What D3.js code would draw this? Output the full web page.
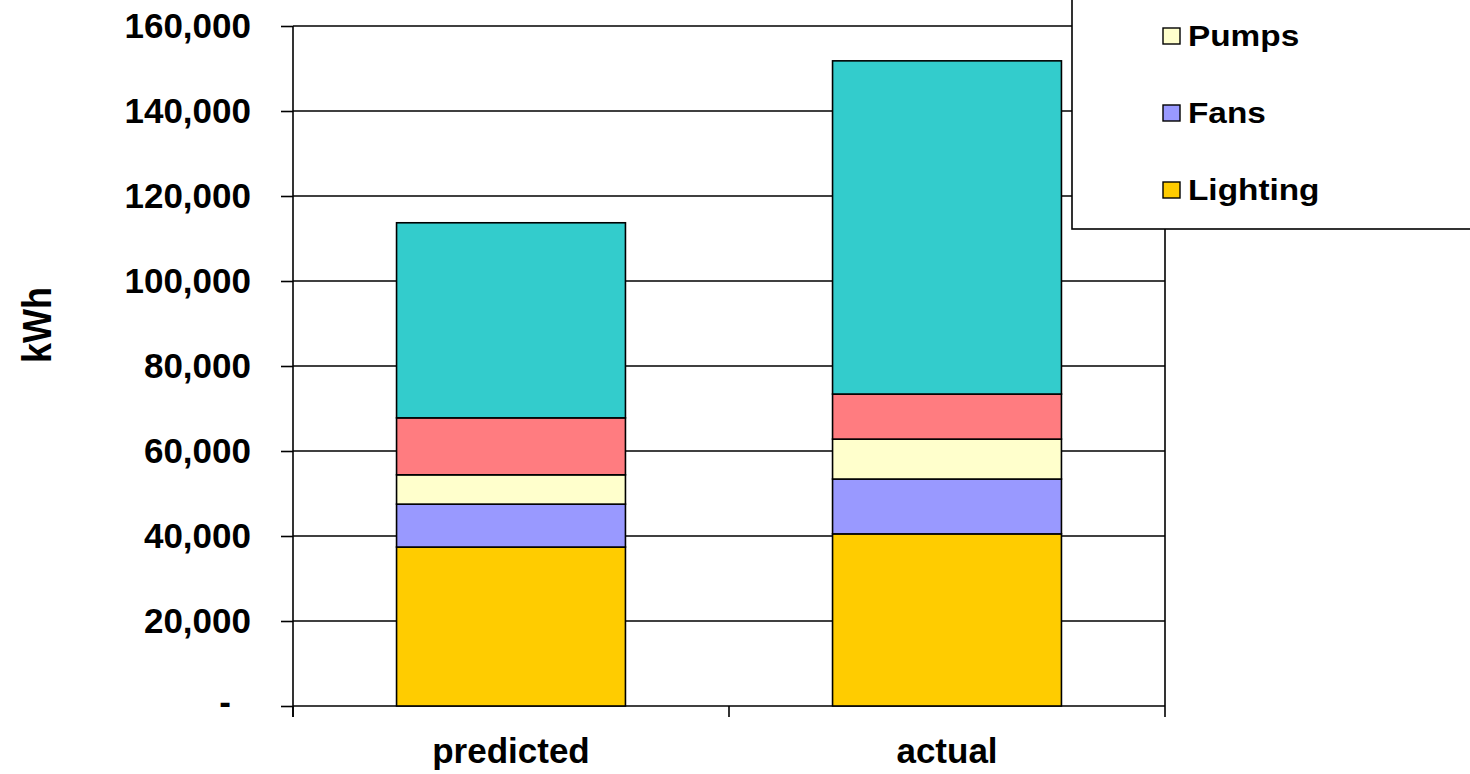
<!DOCTYPE html>
<html>
<head>
<meta charset="utf-8">
<script src="https://cdn.jsdelivr.net/npm/d3@7"></script>
<style>
  html, body { margin: 0; padding: 0; background: #ffffff; }
  svg { display: block; }
  text { font-family: "Liberation Sans", Arial, sans-serif; font-weight: bold; fill: #000; }
</style>
</head>
<body>
<svg id="chart" width="1470" height="774"></svg>
<script>
// Annual electricity use by end use, kWh
const categories = ["predicted", "actual"];
const seriesNames = ["Lighting", "Fans", "Pumps", "Cooling", "Other"];
const lighting = [37400, 40500];
const fans     = [10100, 12900];
const pumps    = [6900, 9400];
const cooling  = [13400, 10600];
const other    = [45900, 78400];
const yTicks   = [0, 20000, 40000, 60000, 80000, 100000, 120000, 140000, 160000];
const colors   = ["#FFCC00", "#9999FF", "#FFFFCC", "#FF7C80", "#33CCCC"];
// legend rows in the visible part of the legend box, top-down
const legendShown = ["Pumps", "Fans", "Lighting"];

const seriesValues = [lighting, fans, pumps, cooling, other];
const rows = categories.map((c, i) => {
  const r = { category: c };
  seriesNames.forEach((s, k) => { r[s] = seriesValues[k][i]; });
  return r;
});

const svg = d3.select("#chart");
const plotLeft = 293, plotRight = 1165, plotTop = 26, plotBottom = 706;

const y = d3.scaleLinear().domain([0, 160000]).range([plotBottom, plotTop]);
const slots = d3.scaleBand().domain(categories).range([plotLeft, plotRight]).padding(0);
const x = d3.scaleBand().domain(categories).range([plotLeft, plotRight])
  .paddingInner(0.475).paddingOuter(0.2375);
const color = d3.scaleOrdinal().domain(seriesNames).range(colors);

// horizontal gridlines
svg.append("g")
  .selectAll("line")
  .data(yTicks)
  .join("line")
  .attr("x1", plotLeft).attr("x2", plotRight)
  .attr("y1", d => y(d)).attr("y2", d => y(d))
  .attr("stroke", "#000").attr("stroke-width", 1.6);

// right border of the plot area
svg.append("line")
  .attr("x1", plotRight).attr("x2", plotRight)
  .attr("y1", plotTop).attr("y2", plotBottom)
  .attr("stroke", "#000").attr("stroke-width", 1.6);

// stacked bars
const stacked = d3.stack().keys(seriesNames)(rows);
svg.append("g")
  .selectAll("g")
  .data(stacked)
  .join("g")
  .attr("fill", d => color(d.key))
  .selectAll("rect")
  .data(d => d)
  .join("rect")
  .attr("x", d => x(d.data.category))
  .attr("width", x.bandwidth())
  .attr("y", d => y(d[1]))
  .attr("height", d => y(d[0]) - y(d[1]))
  .attr("stroke", "#000")
  .attr("stroke-width", 1.6);

// y axis
const yAxis = svg.append("g")
  .attr("transform", `translate(${plotLeft},0)`)
  .call(d3.axisLeft(y).tickValues(yTicks).tickSize(12).tickPadding(30)
    .tickFormat(d => d === 0 ? "-" : d3.format(",")(d)));
yAxis.select(".domain").attr("stroke", "#000").attr("stroke-width", 1.6)
  .attr("d", `M0,${plotTop}V${plotBottom + 11}`);
yAxis.selectAll(".tick line").attr("stroke", "#000").attr("stroke-width", 1.6);
yAxis.selectAll(".tick text")
  .attr("font-size", 35)
  .attr("font-family", "'Liberation Sans', Arial, sans-serif")
  .attr("font-weight", "bold")
  .attr("fill", "#000")
  .attr("dy", "0.34em");
yAxis.selectAll(".tick text").filter(d => d === 0)
  .attr("text-anchor", "middle").attr("x", -68).attr("dy", "0.2em");

// x axis: slot boundary ticks and category labels
const xAxis = svg.append("g");
const boundaries = categories.map(c => slots(c)).concat([plotRight]);
xAxis.selectAll("line.tick")
  .data(boundaries)
  .join("line")
  .attr("class", "tick")
  .attr("x1", d => d).attr("x2", d => d)
  .attr("y1", plotBottom).attr("y2", plotBottom + 11)
  .attr("stroke", "#000").attr("stroke-width", 1.6);
xAxis.selectAll("text")
  .data(categories)
  .join("text")
  .attr("x", d => x(d) + x.bandwidth() / 2)
  .attr("y", 763)
  .attr("text-anchor", "middle")
  .attr("font-size", 35)
  .text(d => d);

// y axis title
svg.append("text")
  .attr("transform", "translate(51,325) rotate(-90) scale(1,1.15)")
  .attr("text-anchor", "middle")
  .attr("font-size", 36)
  .text("kWh");

// legend box runs past the top and right edges
const legendStep = 77;
const legend = svg.append("g");
legend.append("rect")
  .attr("x", 1072).attr("y", -40)
  .attr("width", 440).attr("height", 269)
  .attr("fill", "#fff").attr("stroke", "#000").attr("stroke-width", 1.6);
const items = legend.selectAll("g.item")
  .data(legendShown)
  .join("g")
  .attr("class", "item")
  .attr("transform", (d, i) => `translate(1163,${36 + i * legendStep})`);
items.append("rect")
  .attr("x", 0).attr("y", -8)
  .attr("width", 17).attr("height", 16)
  .attr("fill", d => color(d))
  .attr("stroke", "#000").attr("stroke-width", 1.4);
items.append("text")
  .attr("transform", "translate(25,0) scale(1.15,1)")
  .attr("dy", "0.36em")
  .attr("font-size", 29)
  .text(d => d);
</script>
</body>
</html>
